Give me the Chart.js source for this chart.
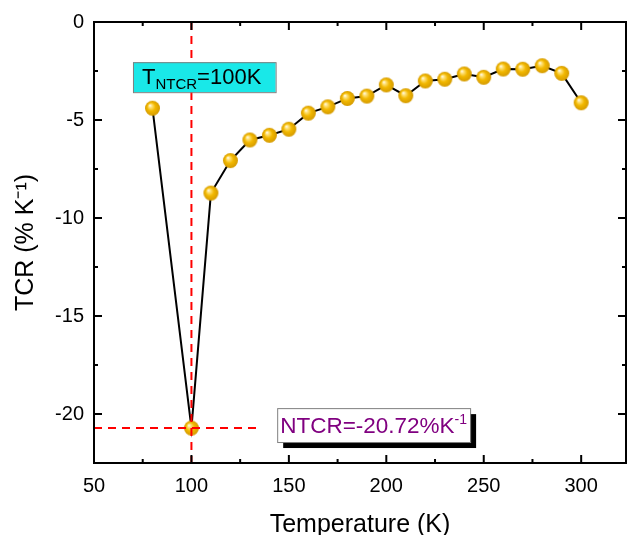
<!DOCTYPE html>
<html>
<head>
<meta charset="utf-8">
<script src="https://cdn.jsdelivr.net/npm/chart.js@4"></script>
<style>
  html, body { margin: 0; padding: 0; background: #fff; }
  #wrap { width: 636px; height: 535px; }
</style>
</head>
<body>
<div id="wrap"><canvas id="tcrChart" width="636" height="535"></canvas></div>
<script>
// temperatura (K) e TCR (% K^-1)
const temps = [80, 100, 110, 120, 130, 140, 150, 160, 170, 180, 190, 200, 210, 220, 230, 240, 250, 260, 270, 280, 290, 300];
const tcr = [-4.40, -20.72, -8.73, -7.07, -6.02, -5.78, -5.47, -4.65, -4.33, -3.90, -3.78, -3.21, -3.76, -3.01, -2.92, -2.65, -2.82, -2.40, -2.41, -2.23, -2.62, -4.12];
const xTicks = [50, 100, 150, 200, 250, 300];
const yTicks = [0, -5, -10, -15, -20];

const FONT = "'Liberation Sans', Arial, sans-serif";

// bolinha dourada com brilho
function makeBall(r) {
    const c = document.createElement('canvas');
    c.width = c.height = r * 2 + 2;
    const g = c.getContext('2d');
    const cx = r + 1, cy = r + 1;
    const grad = g.createRadialGradient(cx - r * 0.35, cy - r * 0.4, 0, cx, cy, r);
    grad.addColorStop(0, '#ffffff');
    grad.addColorStop(0.22, '#ffe27a');
    grad.addColorStop(0.55, '#f2b800');
    grad.addColorStop(1, '#d49a00');
    g.fillStyle = grad;
    g.beginPath();
    g.arc(cx, cy, r, 0, Math.PI * 2);
    g.fill();
    return c;
}
const ball = makeBall(7.5);

// moldura e ticks para dentro
const framePlugin = {
    id: 'frame',
    afterDraw(chart) {
        const { ctx, chartArea: a, scales } = chart;
        const xs = scales.x, ys = scales.y;
        ctx.save();
        ctx.strokeStyle = '#000';
        ctx.lineWidth = 2;
        ctx.strokeRect(a.left, a.top, a.right - a.left, a.bottom - a.top);
        ctx.beginPath();
        for (let v = 50; v <= 320; v += 25) {
            const p = xs.getPixelForValue(v);
            const len = v % 50 === 0 ? 8 : 4;
            ctx.moveTo(p, a.bottom); ctx.lineTo(p, a.bottom - len);
            ctx.moveTo(p, a.top); ctx.lineTo(p, a.top + len);
        }
        for (let v = 0; v >= -22.5; v -= 2.5) {
            const p = ys.getPixelForValue(v);
            const len = v % 5 === 0 ? 8 : 4;
            ctx.moveTo(a.left, p); ctx.lineTo(a.left + len, p);
            ctx.moveTo(a.right, p); ctx.lineTo(a.right - len, p);
        }
        ctx.stroke();
        ctx.restore();
    }
};

// linhas vermelhas e caixas de texto
const notesPlugin = {
    id: 'notes',
    afterDatasetsDraw(chart) {
        const { ctx, chartArea: a, scales } = chart;
        const xs = scales.x, ys = scales.y;
        const px = xs.getPixelForValue(100);
        const py = ys.getPixelForValue(-20.72);
        ctx.save();
        ctx.strokeStyle = '#ff0000';
        ctx.lineWidth = 2;
        ctx.setLineDash([8, 6]);
        ctx.beginPath();
        ctx.moveTo(px, a.top); ctx.lineTo(px, a.bottom);
        ctx.moveTo(a.left, py); ctx.lineTo(xs.getPixelForValue(134), py);
        ctx.stroke();
        ctx.setLineDash([]);

        // caixa T_NTCR
        let l = xs.getPixelForValue(70), r = xs.getPixelForValue(143.2);
        let t = ys.getPixelForValue(-2.05), b = ys.getPixelForValue(-3.58);
        ctx.fillStyle = '#19e8e8';
        ctx.fillRect(l, t, r - l, b - t);
        ctx.strokeStyle = '#808080';
        ctx.lineWidth = 1;
        ctx.strokeRect(l + 0.5, t + 0.5, r - l, b - t);
        ctx.fillStyle = '#000';
        ctx.textBaseline = 'alphabetic';
        ctx.font = '22px ' + FONT;
        let x = l + 9, base = b - 8;
        ctx.fillText('T', x, base);
        x += ctx.measureText('T').width;
        ctx.font = '15px ' + FONT;
        ctx.fillText('NTCR', x, base + 5);
        x += ctx.measureText('NTCR').width;
        ctx.font = '22px ' + FONT;
        ctx.fillText('=100K', x, base);

        // caixa NTCR com sombra
        l = xs.getPixelForValue(144); r = xs.getPixelForValue(243);
        t = ys.getPixelForValue(-19.7); b = ys.getPixelForValue(-21.43);
        ctx.fillStyle = '#000';
        ctx.fillRect(l + 6, t + 6, r - l, b - t);
        ctx.fillStyle = '#fff';
        ctx.fillRect(l, t, r - l, b - t);
        ctx.strokeStyle = '#808080';
        ctx.strokeRect(l + 0.5, t + 0.5, r - l, b - t);
        ctx.fillStyle = '#800080';
        ctx.font = '22.5px ' + FONT;
        x = l + 3; base = b - 9;
        ctx.fillText('NTCR=-20.72%K', x, base);
        x += ctx.measureText('NTCR=-20.72%K').width;
        ctx.font = '14px ' + FONT;
        ctx.fillText('-1', x, base - 9);
        ctx.restore();
    }
};

const ctx = document.getElementById('tcrChart').getContext('2d');
const tcrChart = new Chart(ctx, {
    type: 'line',
    data: {
        datasets: [{
            data: temps.map((t, i) => ({ x: t, y: tcr[i] })),
            borderColor: '#000',
            borderWidth: 2,
            pointStyle: ball,
            pointRadius: 8,
            pointHoverRadius: 8,
            tension: 0
        }]
    },
    options: {
        responsive: false,
        animation: false,
        layout: { padding: { left: 0, top: 22, right: 4, bottom: 0 } },
        plugins: {
            legend: { display: false },
            tooltip: { enabled: false }
        },
        scales: {
            x: {
                type: 'linear',
                min: 50,
                max: 323,
                afterBuildTicks: s => { s.ticks = xTicks.map(v => ({ value: v })); },
                afterFit: s => { s.height = 72; },
                grid: { display: false, drawTicks: false },
                border: { display: false },
                ticks: { color: '#000', padding: 11, font: { family: FONT, size: 20 } },
                title: {
                    display: true,
                    text: 'Temperature (K)',
                    color: '#000',
                    padding: { top: 0, bottom: -5 },
                    font: { family: FONT, size: 25 }
                }
            },
            y: {
                type: 'linear',
                min: -22.5,
                max: 0,
                afterBuildTicks: s => { s.ticks = yTicks.map(v => ({ value: v })); },
                afterFit: s => { s.width = 94; },
                grid: { display: false, drawTicks: false },
                border: { display: false },
                ticks: { color: '#000', padding: 10, font: { family: FONT, size: 20 } },
                title: {
                    display: true,
                    text: 'TCR (% K\u207B\u00B9)',
                    color: '#000',
                    padding: { top: 11, bottom: 0 },
                    font: { family: FONT, size: 25 }
                }
            }
        }
    },
    plugins: [framePlugin, notesPlugin]
});
</script>
</body>
</html>
